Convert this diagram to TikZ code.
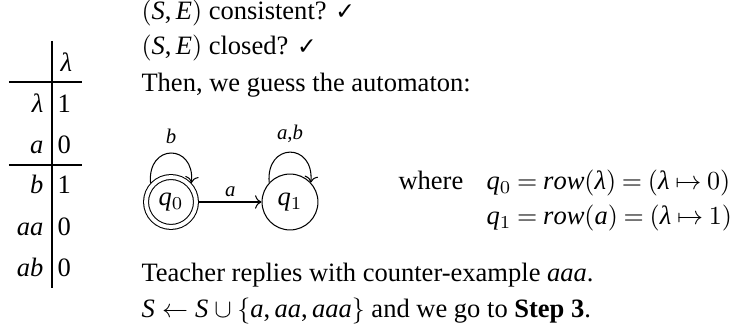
\documentclass[tikz,border=0pt]{standalone}
\usepackage{fontspec}
\setmainfont{Liberation Serif}[NFSSFamily=libser]
\newfontfamily\dejavu{DejaVu Sans}
\DeclareSymbolFont{letters}{TU}{libser}{m}{it}
\DeclareMathSymbol{,}{\mathpunct}{operators}{`,}
\Umathchardef\lambda="0 \symletters "03BB
\newcommand\chk{{\dejavu\small ✓}}
\usetikzlibrary{arrows.meta}
\begin{document}
\begin{tikzpicture}[x=0.3846pt,y=-0.3846pt,
  every node/.style={font=\fontsize{10.2pt}{12pt}\selectfont},
  txt/.style={anchor=base west, inner sep=0pt},
  cellr/.style={anchor=base east, inner sep=0pt},
  celll/.style={anchor=base west, inner sep=0pt},
  rule/.style={line width=0.4pt},
  stt/.style={draw, circle, inner sep=0pt, minimum size=21.5pt},
  acc/.style={stt, double, double distance=1.5pt, minimum size=19.2pt, outer sep=1.15pt},
  lbl/.style={font=\footnotesize, inner sep=2pt},
  looplbl/.style={lbl, above=1.5pt},
  tr/.style={->, line width=0.4pt},
  selfloop/.style={tr, out=95, in=85, looseness=2.5}]
\useasboundingbox (0,0) rectangle (736,330);
% table
\coordinate (vt) at (52,41);
\coordinate (vb) at (52,288);
\coordinate (h1l) at (9,82);
\coordinate (h1r) at (82,82);
\coordinate (h2l) at (9,165);
\coordinate (h2r) at (82,165);
\draw[rule] (vt) -- (vb);
\draw[rule] (h1l) -- (h1r);
\draw[rule] (h2l) -- (h2r);
\node[celll] (hd) at (60,72) {$\lambda$};
\node[cellr] (r1) at (44,113) {$\lambda$};
\node[celll] (v1) at (57,113) {1};
\node[cellr] (r2) at (44,154) {$a$};
\node[celll] (v2) at (57,154) {0};
\node[cellr] (r3) at (44,194) {$b$};
\node[celll] (v3) at (57,194) {1};
\node[cellr] (r4) at (44,236) {$aa$};
\node[celll] (v4) at (57,236) {0};
\node[cellr] (r5) at (44,277) {$ab$};
\node[celll] (v5) at (57,277) {0};
% text lines
\node[txt] (l1) at (141,20) {$(S,E)$ consistent? \chk};
\node[txt] (l2) at (141,55) {$(S,E)$ closed? \chk};
\node[txt] (l3) at (141,92) {Then, we guess the automaton:};
\node[txt] (l4) at (141,282) {Teacher replies with counter-example $aaa$.};
\node[txt] (l5) at (141,318) {$S \leftarrow S \cup \{a, aa, aaa\}$ and we go to \textbf{Step 3}.};
% automaton
\node[acc] (q0) at (171,202) {$q_0$};
\node[stt] (q1) at (290,202) {$q_1$};
\draw[tr] (q0) -- node[lbl, above] {$a$} (q1);
\draw[selfloop] (q0.137) to node[looplbl] {$b$} (q0.43);
\draw[selfloop] (q1.137) to node[looplbl] {$a$,$b$} (q1.43);
% where
\node[txt] (wh) at (398,190) {where};
\node[txt] (e0) at (486,190) {\thickmuskip=4mu plus 2mu $q_0 = row(\lambda) = (\lambda \mapsto 0)$};
\node[txt] (e1) at (486,225) {\thickmuskip=4mu plus 2mu $q_1 = row(a) = (\lambda \mapsto 1)$};
\end{tikzpicture}
\end{document}
